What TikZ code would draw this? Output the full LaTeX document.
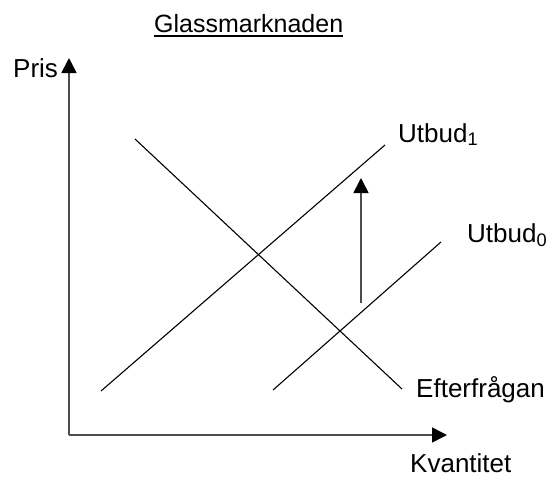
\documentclass[tikz,border=0pt]{standalone}
\usepackage{fontspec}
\setmainfont{Liberation Sans}
\usetikzlibrary{arrows.meta}
\begin{document}
\begin{tikzpicture}[x=1pt,y=-1pt,
  lbl/.style={inner sep=0pt, anchor=base west, font=\fontsize{26}{30}\selectfont},
  curve/.style={line width=1.1pt, draw=black},
  axis/.style={line width=1.7pt, draw=black!70, -{Triangle[length=15pt,width=15pt,color=black]}}]
\useasboundingbox (0,0) rectangle (552,480);
% title
\node[lbl, font=\fontsize{25}{30}\selectfont] (title) at (154,32) {Glassmarknaden};
\draw[line width=2pt] ([yshift=-3.5pt]title.base west) -- ([yshift=-3.5pt]title.base east);
% axes
\coordinate (O) at (69,435);
\coordinate (ytip) at (69,58);
\coordinate (xtip) at (447,435);
\draw[axis] (O) -- (ytip);
\draw[axis] (O) -- (xtip);
\node[lbl] (pris) at (13,77) {Pris};
\node[lbl] (kvant) at (410,472) {Kvantitet};
% demand
\coordinate (d1) at (135,139);
\coordinate (d2) at (402,389);
\draw[curve] (d1) -- (d2);
\node[lbl] (eft) at (416,397) {Efterfrågan};
% supply 1
\coordinate (s1a) at (101,391);
\coordinate (s1b) at (385,145);
\draw[curve] (s1a) -- (s1b);
\node[lbl] (u1) at (398,142) {Utbud\textsubscript{1}};
% supply 0
\coordinate (s0a) at (273,390);
\coordinate (s0b) at (441,242);
\draw[curve] (s0a) -- (s0b);
\node[lbl] (u0) at (467,242) {Utbud\textsubscript{0}};
% shift arrow
\coordinate (sa) at (361,303);
\coordinate (sb) at (361,178);
\draw[axis] (sa) -- (sb);
\end{tikzpicture}
\end{document}
